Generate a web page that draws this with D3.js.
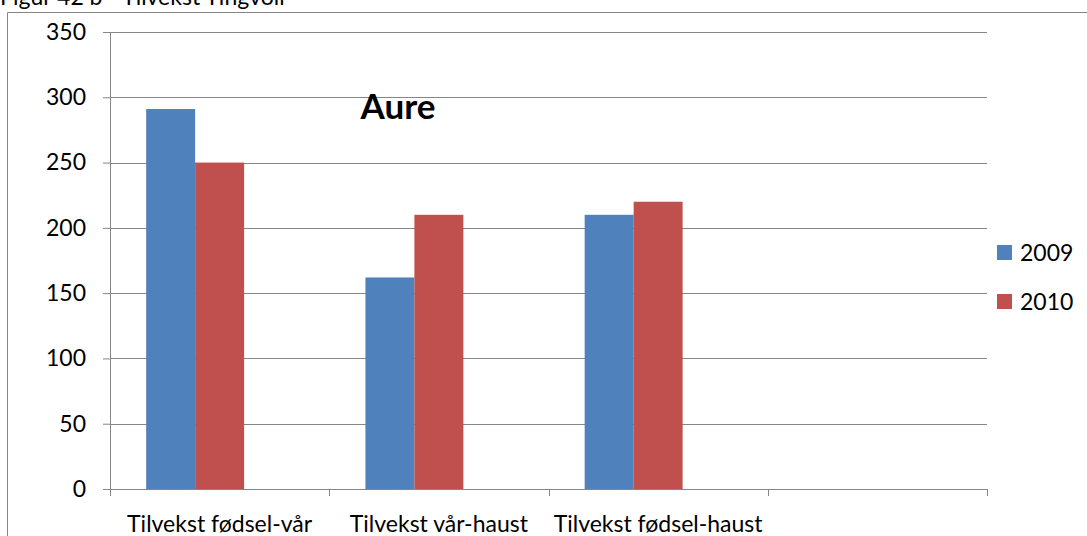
<!DOCTYPE html>
<html>
<head>
<meta charset="utf-8">
<script src="https://cdn.jsdelivr.net/npm/d3@7"></script>
<style>
  body { margin: 0; background: #fff; }
  text { font-family: Lato, "Open Sans", sans-serif; fill: #000; }
</style>
</head>
<body>
<svg id="chart" width="1087" height="536"></svg>
<script>
// Data
const categories = ["Tilvekst fødsel-vår", "Tilvekst vår-haust", "Tilvekst fødsel-haust", ""];
const seriesNames = ["2009", "2010"];
const values2009 = [291, 162, 210, null];
const values2010 = [250, 210, 220, null];
const yTicks = [0, 50, 100, 150, 200, 250, 300, 350];
const colors = ["#4F81BD", "#C0504D"];

const svg = d3.select("#chart");

// figure caption, mostly cut off at the top
svg.append("text")
    .attr("x", 0)
    .attr("y", 5)
    .style("font-size", "23px")
    .text("Figur 42 b - Tilvekst Tingvoll");

// outer frame of the chart area
svg.append("path")
    .attr("d", "M7.5,540V12.5H1090")
    .attr("fill", "none")
    .attr("stroke", "#868686");

const margin = { top: 32, left: 110 },
    width = 877,
    height = 457;

const g = svg.append("g")
    .attr("transform", `translate(${margin.left},${margin.top})`);

const x0 = d3.scaleBand()
    .domain(categories)
    .range([0, width])
    .paddingInner(0.33)
    .paddingOuter(0.165);

// Excel leaves room for a third (empty) series slot
const x1 = d3.scaleBand()
    .domain([...seriesNames, "_empty"])
    .range([0, x0.bandwidth()]);

const y = d3.scaleLinear()
    .domain([0, 350])
    .range([height, 0]);

// gridlines
g.append("g")
    .selectAll("line")
    .data(yTicks.filter(d => d > 0))
    .enter()
    .append("line")
    .attr("x1", 0)
    .attr("x2", width)
    .attr("y1", d => Math.round(y(d)) + 0.5)
    .attr("y2", d => Math.round(y(d)) + 0.5)
    .attr("stroke", "#868686");

// bars
const rows = categories.map((c, i) => ({ cat: c, vals: [values2009[i], values2010[i]] }));
g.selectAll(".grp")
    .data(rows)
    .enter()
    .append("g")
    .attr("class", "grp")
    .attr("transform", d => `translate(${x0(d.cat)},0)`)
    .selectAll("rect")
    .data(d => d.vals.map((v, j) => ({ key: seriesNames[j], v: v, j: j })).filter(d => d.v != null))
    .enter()
    .append("rect")
    .attr("x", d => x1(d.key))
    .attr("width", x1.bandwidth())
    .attr("y", d => y(d.v))
    .attr("height", d => height - y(d.v))
    .attr("fill", d => colors[d.j]);

// y axis
const yAxis = g.append("g")
    .call(d3.axisLeft(y).tickValues(yTicks).tickSize(7).tickPadding(17));
yAxis.select(".domain").attr("stroke", "#868686");
yAxis.selectAll(".tick line").attr("stroke", "#868686");
yAxis.selectAll("text")
    .style("font-size", "23px")
    .style("font-family", "Lato, sans-serif")
    .attr("fill", "#000");

// x axis: ticks at category boundaries
const xAxis = g.append("g")
    .attr("transform", `translate(0,${height})`);
xAxis.append("line")
    .attr("x1", 0).attr("x2", width)
    .attr("y1", 0.5).attr("y2", 0.5)
    .attr("stroke", "#868686");
const step = x0.step();
xAxis.selectAll(".xtick")
    .data(d3.range(categories.length + 1))
    .enter()
    .append("line")
    .attr("class", "xtick")
    .attr("x1", i => Math.round(i * step) + 0.5)
    .attr("x2", i => Math.round(i * step) + 0.5)
    .attr("y1", 0)
    .attr("y2", 7)
    .attr("stroke", "#868686");
xAxis.selectAll(".xlabel")
    .data(categories)
    .enter()
    .append("text")
    .attr("class", "xlabel")
    .attr("x", d => x0(d) + x0.bandwidth() / 2)
    .attr("y", 43)
    .attr("text-anchor", "middle")
    .style("font-size", "23px")
    .text(d => d);

// inner title
g.append("text")
    .attr("x", 288)
    .attr("y", 87)
    .attr("text-anchor", "middle")
    .style("font-size", "35px")
    .style("font-weight", "bold")
    .text("Aure");

// legend
const legend = svg.append("g")
    .attr("transform", "translate(997,245)");
seriesNames.forEach((s, i) => {
    legend.append("rect")
        .attr("x", 0)
        .attr("y", i * 49)
        .attr("width", 15)
        .attr("height", 15)
        .attr("fill", colors[i]);
    legend.append("text")
        .attr("x", 23)
        .attr("y", i * 49 + 7.5)
        .attr("dy", "0.35em")
        .style("font-size", "23px")
        .text(s);
});
</script>
</body>
</html>
